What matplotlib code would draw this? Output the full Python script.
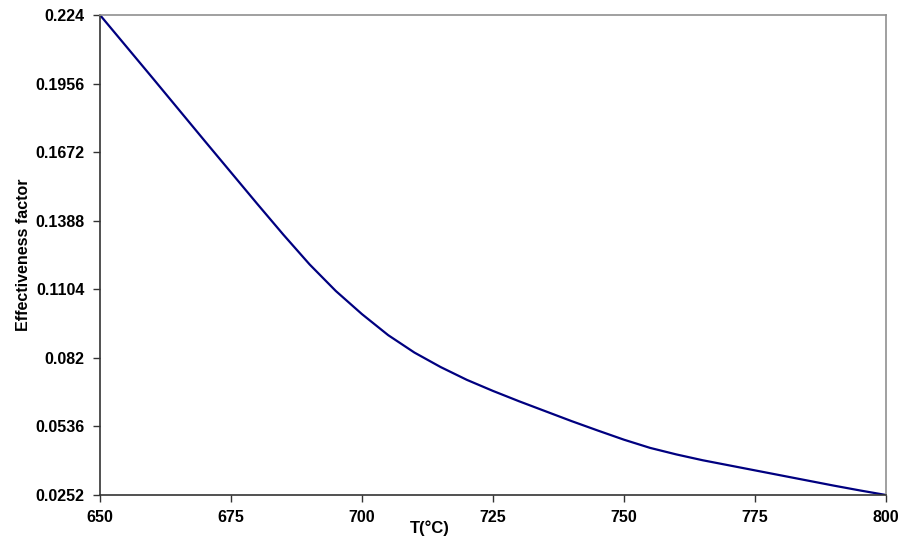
import matplotlib
matplotlib.use("Agg")
import matplotlib.pyplot as plt

# Temperature (°C) and effectiveness factor
temperature = [650, 660, 670, 680, 685, 690, 695, 700, 705, 710, 715, 720, 725,
               730, 735, 740, 745, 750, 755, 760, 765, 770, 775, 780, 785, 790,
               795, 800]
effectiveness = [0.224, 0.198, 0.1718, 0.1458, 0.1330, 0.1207, 0.1097, 0.1001,
                 0.0914, 0.0842, 0.0782, 0.0729, 0.0683, 0.0640, 0.0599, 0.0558,
                 0.0519, 0.0481, 0.0447, 0.0420, 0.0396, 0.0375, 0.0354, 0.0333,
                 0.0312, 0.0291, 0.0271, 0.0252]

x_ticks = [650, 675, 700, 725, 750, 775, 800]
y_ticks = [0.0252, 0.0536, 0.082, 0.1104, 0.1388, 0.1672, 0.1956, 0.224]
y_tick_labels = ["0.0252", "0.0536", "0.082", "0.1104", "0.1388", "0.1672", "0.1956", "0.224"]

plt.rcParams["font.family"] = ["Liberation Sans", "DejaVu Sans"]

fig = plt.figure(figsize=(9, 5.44), dpi=100)
ax = fig.add_axes([100 / 900, 49 / 544, 786 / 900, 480 / 544])

ax.plot(temperature, effectiveness, color="#000080", linewidth=1.6)

ax.set_xlim(650, 800)
ax.set_ylim(0.0252, 0.224)
ax.set_xticks(x_ticks)
ax.set_xticklabels([str(t) for t in x_ticks])
ax.set_yticks(y_ticks)
ax.set_yticklabels(y_tick_labels)

ax.tick_params(direction="out", length=5, width=1, labelsize=11.5, pad=6, color="#333333")
for lbl in ax.get_xticklabels() + ax.get_yticklabels():
    lbl.set_fontweight("bold")

ax.spines["left"].set_color("#333333")
ax.spines["bottom"].set_color("#333333")
ax.spines["top"].set_color("#909090")
ax.spines["right"].set_color("#909090")
for s in ax.spines.values():
    s.set_linewidth(1.2)

ax.set_xlabel("T(°C)", fontsize=12, fontweight="bold")
ax.xaxis.set_label_coords(0.42, -0.052)
ax.set_ylabel("Effectiveness factor", fontsize=11.5, fontweight="bold", labelpad=3)

fig.savefig("out.png", dpi=100)
